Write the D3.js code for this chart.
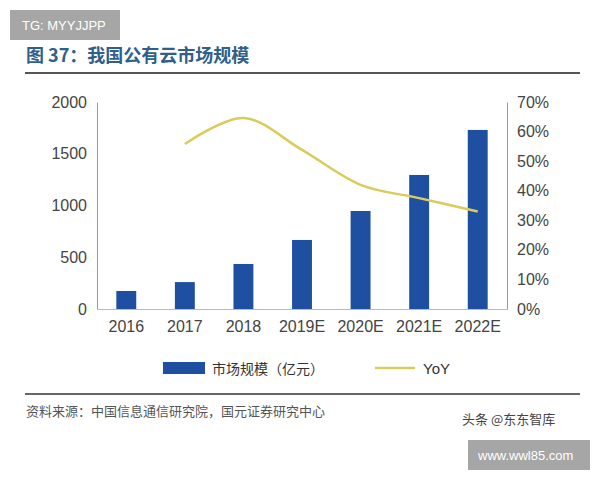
<!DOCTYPE html><html><head><meta charset="utf-8"><script src="https://d3js.org/d3.v7.min.js"></script>
<style>body{margin:0;background:#fff}</style></head><body><svg id="c" width="600" height="480"></svg><script>
const categories=["2016","2017","2018","2019E","2020E","2021E","2022E"];
const marketSize=[174,260,435,667,947,1295,1730];
const yoy=[null,55.8,64.6,53.8,42,37.5,33];
const leftTicks=[0,500,1000,1500,2000];
const rightTicks=[0,10,20,30,40,50,60,70];
const svg=d3.select("#c");
const F="'Noto Sans CJK SC',sans-serif";
svg.append("rect").attr("x",10).attr("y",10).attr("width",110).attr("height",30).attr("fill","#a6a6a6");
svg.append("text").attr("x",22).attr("y",30).attr("fill","#fff").attr("font-size",13).attr("font-family","Arial,sans-serif").text("TG: MYYJJPP");
svg.append("text").attr("x",26).attr("y",62).attr("fill","#2f5f8a").attr("font-size",18).attr("font-weight","bold").attr("font-family",F).text("图 37：我国公有云市场规模");
svg.append("line").attr("x1",25).attr("x2",580).attr("y1",73).attr("y2",73).attr("stroke","#555").attr("stroke-width",2);
const x=d3.scaleBand().domain(categories).range([97,507]).paddingInner(0.66).paddingOuter(0.33);
const y=d3.scaleLinear().domain([0,2000]).range([309,102]);
const y2=d3.scaleLinear().domain([0,70]).range([309,102]);
const la=svg.append("g").attr("transform","translate(97,0)").call(d3.axisLeft(y).tickValues(leftTicks).tickFormat(d3.format("d")).tickSize(0).tickPadding(10));
const ra=svg.append("g").attr("transform","translate(507,0)").call(d3.axisRight(y2).tickValues(rightTicks).tickFormat(d=>d+"%").tickSize(0).tickPadding(10));
const ba=svg.append("g").attr("transform","translate(0,309)").call(d3.axisBottom(x).tickSize(0).tickPadding(12));
[la,ra,ba].forEach(a=>{a.selectAll("text").attr("font-size",16).attr("fill","#444").attr("font-family","Arial,'Liberation Sans',sans-serif");});
la.select(".domain").attr("stroke","#999");ra.select(".domain").attr("stroke","#999");
ba.select(".domain").attr("stroke","#bbb");
svg.selectAll(".bar").data(marketSize).enter().append("rect").attr("x",(d,i)=>x(categories[i])).attr("width",x.bandwidth()).attr("y",d=>y(d)).attr("height",d=>309-y(d)).attr("fill","#1f4fa0");
const pts=yoy.map((v,i)=>[x(categories[i])+x.bandwidth()/2,v]).filter(p=>p[1]!=null);
svg.append("path").datum(pts).attr("d",d3.line().x(p=>p[0]).y(p=>y2(p[1])).curve(d3.curveCatmullRom)).attr("fill","none").attr("stroke","#d9cc5a").attr("stroke-width",2.5);
svg.append("rect").attr("x",163).attr("y",362).attr("width",42).attr("height",12).attr("fill","#1f4fa0");
svg.append("text").attr("x",212).attr("y",374).attr("font-size",14).attr("fill","#333").attr("font-family",F).text("市场规模（亿元）");
svg.append("line").attr("x1",375).attr("x2",415).attr("y1",368).attr("y2",368).attr("stroke","#d9cc5a").attr("stroke-width",2.5);
svg.append("text").attr("x",423).attr("y",374).attr("font-size",15).attr("fill","#333").attr("font-family","Arial,sans-serif").text("YoY");
svg.append("line").attr("x1",25).attr("x2",580).attr("y1",394).attr("y2",394).attr("stroke","#666").attr("stroke-width",2);
svg.append("text").attr("x",26).attr("y",416).attr("font-size",13).attr("fill","#555").attr("font-family",F).text("资料来源：中国信息通信研究院，国元证券研究中心");
svg.append("text").attr("x",462).attr("y",424).attr("font-size",13).attr("fill","#444").attr("font-family",F).text("头条 @东东智库");
svg.append("rect").attr("x",468).attr("y",440).attr("width",122).attr("height",30).attr("fill","#a6a6a6");
svg.append("text").attr("x",478).attr("y",460).attr("fill","#fff").attr("font-size",13).attr("font-family","Arial,sans-serif").text("www.wwl85.com");
</script></body></html>
